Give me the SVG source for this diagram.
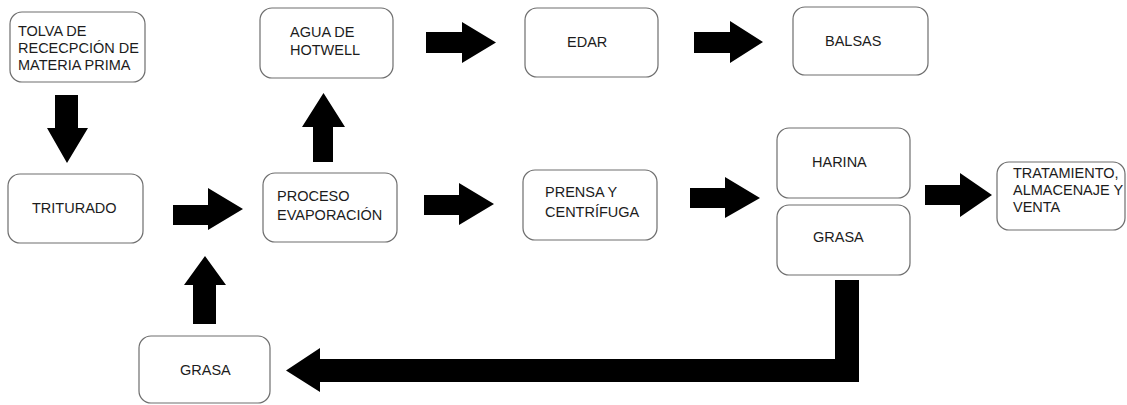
<svg xmlns="http://www.w3.org/2000/svg" width="1127" height="405" viewBox="0 0 1127 405">
<style>
.box{fill:#fff;stroke:#6e6e6e;stroke-width:1.2}
.t{font-family:"Liberation Sans",Arial,sans-serif;font-size:14.5px;fill:#1c1c1c}
.arr{fill:#000}
</style>
<rect width="1127" height="405" fill="#fff"/>
<g id="connectors">
<polygon class="arr" points="55,95 78,95 78,128 88,128 67,163 47,128 55,128"/>
<polygon class="arr" points="313,162 333,162 333,127 345,127 323.5,93 302,127 313,127"/>
<polygon class="arr" points="426,32 462,32 462,22 496,42.5 462,63 462,53 426,53"/>
<polygon class="arr" points="694,32 730,32 730,21 763,42 730,63 730,53 694,53"/>
<polygon class="arr" points="173,205 208,205 208,188 243,209 208,230 208,225 173,225"/>
<polygon class="arr" points="193,324 216,324 216,285 226,285 205,256 184,285 193,285"/>
<polygon class="arr" points="424,195 459,195 459,183 494,204 459,225 459,215 424,215"/>
<polygon class="arr" points="690,188 725,188 725,177 760,198 725,218 725,208 690,208"/>
<polygon class="arr" points="925,185 960,185 960,173 992,195 960,217 960,205 925,205"/>
<polygon class="arr" points="835,280 859,280 859,382 320,382 320,392 286,370.5 320,348 320,359 835,359"/>
</g>
<g id="n_tolva"><rect class="box" x="10" y="12" width="135" height="70" rx="12"/>
<text class="t" x="18" y="36">TOLVA DE</text><text class="t" x="18" y="53">RECECPCIÓN DE</text><text class="t" x="18" y="70">MATERIA PRIMA</text></g>
<g id="n_agua"><rect class="box" x="260" y="8" width="133" height="70" rx="12"/>
<text class="t" x="290" y="37">AGUA DE</text><text class="t" x="290" y="55">HOTWELL</text></g>
<g id="n_edar"><rect class="box" x="525" y="8" width="133" height="69" rx="12"/>
<text class="t" x="567" y="47">EDAR</text></g>
<g id="n_balsas"><rect class="box" x="793" y="7" width="135" height="68" rx="12"/>
<text class="t" x="825" y="46">BALSAS</text></g>
<g id="n_triturado"><rect class="box" x="8" y="174" width="135" height="69" rx="12"/>
<text class="t" x="32" y="213">TRITURADO</text></g>
<g id="n_proceso"><rect class="box" x="263" y="173" width="134" height="69" rx="12"/>
<text class="t" x="277" y="201">PROCESO</text><text class="t" x="277" y="220">EVAPORACIÓN</text></g>
<g id="n_prensa"><rect class="box" x="523" y="170" width="134" height="70" rx="12"/>
<text class="t" x="545" y="197">PRENSA Y</text><text class="t" x="545" y="217">CENTRÍFUGA</text></g>
<g id="n_harina"><rect class="box" x="777" y="128" width="133" height="70" rx="12"/>
<text class="t" x="812" y="167">HARINA</text></g>
<g id="n_grasa1"><rect class="box" x="777" y="205" width="133" height="70" rx="12"/>
<text class="t" x="813" y="242">GRASA</text></g>
<g id="n_tratamiento"><rect class="box" x="997" y="162" width="128" height="68" rx="12"/>
<text class="t" x="1013" y="178">TRATAMIENTO,</text><text class="t" x="1013" y="195">ALMACENAJE Y</text><text class="t" x="1013" y="212">VENTA</text></g>
<g id="n_grasa2"><rect class="box" x="139" y="336" width="131" height="67" rx="12"/>
<text class="t" x="180" y="375">GRASA</text></g>
</svg>
